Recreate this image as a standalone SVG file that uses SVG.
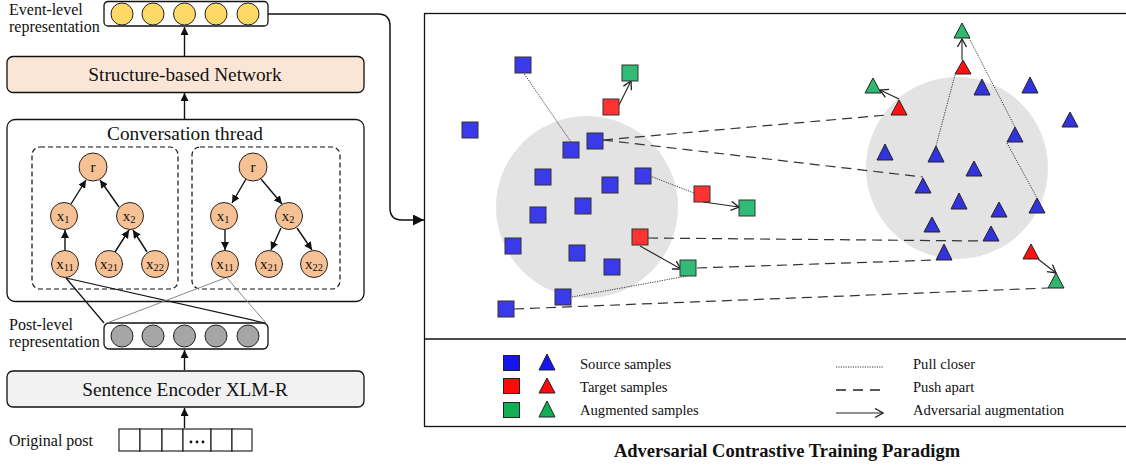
<svg xmlns="http://www.w3.org/2000/svg" width="1126" height="466" viewBox="0 0 1126 466">
<style>
text{font-family:"Liberation Serif","Times New Roman",serif;fill:#111}
.lbl{font-size:16px}
.box{stroke:#111;stroke-width:1.3}
.tn{fill:#F7C196;stroke:#222;stroke-width:1}
.tt{font-size:15px;text-anchor:middle}
.sub{font-size:10.5px}
.ev{fill:#FFD966;stroke:#222;stroke-width:1}
.pv{fill:#A6A6A6;stroke:#222;stroke-width:1}
.ta{stroke:#111;stroke-width:1.4;fill:none;marker-end:url(#ah)}
.sq{stroke:#333;stroke-width:1}
.b{fill:#3A3AEA}.r{fill:#FF3333}.g{fill:#30BC74}
.tb{fill:#3333DD}.tr{fill:#FF1111}.tg{fill:#30B870}
.dash{stroke:#333;stroke-width:1.2;stroke-dasharray:10 6;fill:none}
.dot{stroke:#222;stroke-width:0.9;stroke-dasharray:1.2 1.2;fill:none}
.adv{stroke:#222;stroke-width:1.1;fill:none;marker-end:url(#oa)}
.leg{font-size:14.6px}
</style>
<defs>
<marker id="ah" viewBox="0 0 10 10" refX="10" refY="5" markerWidth="8" markerHeight="8" markerUnits="userSpaceOnUse" orient="auto"><path d="M0,0 L10,5 L0,10 z" fill="#111"/></marker>
<marker id="ah2" viewBox="0 0 10 10" refX="10" refY="5" markerWidth="11" markerHeight="11" markerUnits="userSpaceOnUse" orient="auto"><path d="M0,0 L10,5 L0,10 z" fill="#111"/></marker>
<marker id="oa" viewBox="0 0 10 10" refX="9" refY="5" markerWidth="10" markerHeight="10" markerUnits="userSpaceOnUse" orient="auto"><path d="M1,0.5 L9,5 L1,9.5" fill="none" stroke="#222" stroke-width="1.3"/></marker>
</defs>
<rect width="1126" height="466" fill="#fff"/>

<!-- LEFT PANEL -->
<g id="event-level">
<text class="lbl" x="9" y="15">Event-level</text>
<text class="lbl" x="9" y="32">representation</text>
<rect x="104" y="1.5" width="164" height="24.5" rx="4" fill="#fff" class="box"/>
<circle class="ev" cx="122" cy="14" r="11"/><circle class="ev" cx="153" cy="14" r="11"/><circle class="ev" cx="184.5" cy="14" r="11"/><circle class="ev" cx="216" cy="14" r="11"/><circle class="ev" cx="248" cy="14" r="11"/>
</g>
<g id="structure-net">
<rect x="7" y="56.5" width="357" height="36" rx="6" fill="#FBE5D6" class="box"/>
<text x="185" y="81" font-size="19.3" text-anchor="middle">Structure-based Network</text>
</g>
<g id="conv-thread">
<rect x="7" y="119.5" width="357" height="182" rx="8" fill="#fff" class="box"/>
<text x="185" y="140" font-size="19.3" text-anchor="middle">Conversation thread</text>
<rect x="32" y="147" width="146" height="142" rx="8" fill="none" stroke="#111" stroke-width="1.2" stroke-dasharray="5 3"/>
<rect x="192" y="147" width="148" height="142" rx="8" fill="none" stroke="#111" stroke-width="1.2" stroke-dasharray="5 3"/>
</g>
<g id="tree-left">
<line class="ta" x1="71" y1="204" x2="86" y2="180"/>
<line class="ta" x1="119" y1="207" x2="100" y2="180"/>
<line class="ta" x1="65" y1="250" x2="65" y2="230"/>
<line class="ta" x1="115" y1="252" x2="129" y2="230"/>
<line class="ta" x1="147" y1="252" x2="133" y2="230"/>
<circle class="tn" cx="93" cy="167" r="14"/><text class="tt" x="93" y="172">r</text>
<circle class="tn" cx="64" cy="216" r="13.5"/><text class="tt" x="63" y="221">x<tspan class="sub" dy="2">1</tspan></text>
<circle class="tn" cx="130" cy="216" r="13.5"/><text class="tt" x="129" y="221">x<tspan class="sub" dy="2">2</tspan></text>
<circle class="tn" cx="65" cy="264" r="13.5"/><text class="tt" x="65" y="269">x<tspan class="sub" dy="2">11</tspan></text>
<circle class="tn" cx="109" cy="264" r="13.5"/><text class="tt" x="109" y="269">x<tspan class="sub" dy="2">21</tspan></text>
<circle class="tn" cx="155" cy="264" r="13.5"/><text class="tt" x="155" y="269">x<tspan class="sub" dy="2">22</tspan></text>
</g>
<g id="tree-right">
<line class="ta" x1="246" y1="179" x2="232" y2="203"/>
<line class="ta" x1="261" y1="179" x2="282" y2="204"/>
<line class="ta" x1="225" y1="230" x2="225" y2="250"/>
<line class="ta" x1="281" y1="228" x2="271" y2="250"/>
<line class="ta" x1="297" y1="228" x2="312" y2="250"/>
<circle class="tn" cx="253" cy="167" r="14"/><text class="tt" x="253" y="172">r</text>
<circle class="tn" cx="224" cy="216" r="13.5"/><text class="tt" x="223" y="221">x<tspan class="sub" dy="2">1</tspan></text>
<circle class="tn" cx="289" cy="216" r="13.5"/><text class="tt" x="288" y="221">x<tspan class="sub" dy="2">2</tspan></text>
<circle class="tn" cx="225" cy="264" r="13.5"/><text class="tt" x="225" y="269">x<tspan class="sub" dy="2">11</tspan></text>
<circle class="tn" cx="269" cy="264" r="13.5"/><text class="tt" x="269" y="269">x<tspan class="sub" dy="2">21</tspan></text>
<circle class="tn" cx="314" cy="264" r="13.5"/><text class="tt" x="314" y="269">x<tspan class="sub" dy="2">22</tspan></text>
</g>
<g id="post-level">
<text class="lbl" x="9" y="330">Post-level</text>
<text class="lbl" x="9" y="347">representation</text>
<rect x="104" y="323" width="164" height="26" rx="5" fill="#fff" class="box"/>
<circle class="pv" cx="122" cy="336" r="11"/><circle class="pv" cx="153" cy="336" r="11"/><circle class="pv" cx="184.5" cy="336" r="11"/><circle class="pv" cx="216" cy="336" r="11"/><circle class="pv" cx="248" cy="336" r="11"/>
</g>
<g id="sentence-encoder">
<rect x="7" y="371" width="357" height="36" rx="6" fill="#F2F2F2" class="box"/>
<text x="185" y="396" font-size="19.3" text-anchor="middle">Sentence Encoder XLM-R</text>
</g>
<g id="original-post">
<text class="lbl" x="9" y="446">Original post</text>
<g fill="#fff" stroke="#111" stroke-width="1.1">
<rect x="119" y="429" width="21" height="22"/><rect x="140" y="429" width="22" height="22"/><rect x="162" y="429" width="21" height="22"/><rect x="183" y="429" width="28" height="22"/><rect x="211" y="429" width="21" height="22"/><rect x="232" y="429" width="20" height="22"/>
</g>
<circle cx="191" cy="442" r="1.4" fill="#111"/><circle cx="197" cy="442" r="1.4" fill="#111"/><circle cx="203" cy="442" r="1.4" fill="#111"/>
</g>
<g id="left-connectors">
<line class="ta" x1="184.5" y1="56" x2="184.5" y2="27"/>
<line class="ta" x1="184.5" y1="119" x2="184.5" y2="93"/>
<line class="ta" x1="184.5" y1="370" x2="184.5" y2="350"/>
<line class="ta" x1="184.5" y1="428" x2="184.5" y2="408"/>
<line x1="66" y1="278" x2="104" y2="323" stroke="#111" stroke-width="1.2"/>
<line x1="66" y1="278" x2="265" y2="323" stroke="#111" stroke-width="1.2"/>
<line x1="225" y1="278" x2="107" y2="323" stroke="#888" stroke-width="1"/>
<line x1="227" y1="278" x2="266" y2="323" stroke="#888" stroke-width="1"/>
<path d="M268,14 H378 Q390,14 390,26 V208 Q390,220 402,220 H424" fill="none" stroke="#111" stroke-width="1.5" marker-end="url(#ah2)"/>
</g>

<!-- RIGHT PANEL -->
<g id="paradigm-frame">
<rect x="424.5" y="13.5" width="710" height="413" fill="#fff" stroke="#111" stroke-width="1.3"/>
<line x1="424.5" y1="339" x2="1126" y2="339" stroke="#111" stroke-width="1.3"/>
<circle cx="587" cy="207" r="91" fill="#E3E3E3"/>
<circle cx="957" cy="168" r="91" fill="#E3E3E3"/>
</g>
<g id="connectors">
<line class="dot" x1="523" y1="72" x2="571" y2="142"/>
<line class="dot" x1="650" y1="176" x2="694" y2="193"/>
<line class="dot" x1="572" y1="297" x2="687" y2="276"/>
<line class="dot" x1="955" y1="75" x2="936" y2="146"/>
<line class="dot" x1="969" y1="38" x2="1015" y2="127"/>
<line class="dot" x1="1007" y1="143" x2="1037" y2="198"/>
<line class="dash" x1="603" y1="140" x2="887" y2="115"/>
<line class="dash" x1="603" y1="140" x2="923" y2="177"/>
<line class="dash" x1="648" y1="238" x2="983" y2="241"/>
<line class="dash" x1="697" y1="268" x2="936" y2="260"/>
<line class="dash" x1="514" y1="309" x2="1048" y2="288"/>
<line class="adv" x1="619" y1="105" x2="631" y2="81"/>
<line class="adv" x1="703" y1="202" x2="739" y2="207"/>
<line class="adv" x1="640" y1="246" x2="681" y2="269"/>
<line class="adv" x1="962" y1="60" x2="962" y2="39"/>
<line class="adv" x1="899" y1="99" x2="880" y2="90"/>
<line class="adv" x1="1038" y1="259" x2="1056" y2="273"/>
</g>
<g id="source-squares">
<rect id="s1" class="sq b" x="515" y="57" width="16" height="16"/>
<rect id="s4" class="sq b" x="462" y="122" width="16" height="16"/>
<rect id="s5" class="sq b" x="563" y="142" width="16" height="16"/>
<rect id="s6" class="sq b" x="587" y="133" width="16" height="16"/>
<rect id="s7" class="sq b" x="535" y="169" width="16" height="16"/>
<rect id="s8" class="sq b" x="602" y="177" width="16" height="16"/>
<rect id="s9" class="sq b" x="635" y="168" width="16" height="16"/>
<rect id="s12" class="sq b" x="575" y="198" width="16" height="16"/>
<rect id="s13" class="sq b" x="530" y="207" width="16" height="16"/>
<rect id="s15" class="sq b" x="505" y="238" width="16" height="16"/>
<rect id="s16" class="sq b" x="569" y="245" width="16" height="16"/>
<rect id="s17" class="sq b" x="604" y="259" width="16" height="16"/>
<rect id="s19" class="sq b" x="555" y="289" width="16" height="16"/>
<rect id="s20" class="sq b" x="498" y="301" width="16" height="16"/>
</g>
<g id="target-squares">
<rect id="s3" class="sq r" x="603" y="99" width="16" height="16"/>
<rect id="s10" class="sq r" x="694" y="186" width="16" height="16"/>
<rect id="s14" class="sq r" x="632" y="229" width="16" height="16"/>
</g>
<g id="aug-squares">
<rect id="s2" class="sq g" x="622" y="65" width="16" height="16"/>
<rect id="s11" class="sq g" x="739" y="200" width="16" height="16"/>
<rect id="s18" class="sq g" x="680" y="260" width="16" height="16"/>
</g>
<g id="triangles" stroke="#222" stroke-width="1">
<polygon id="t1" class="tg" points="962,23 970,38 954,38"/>
<polygon id="t2" class="tr" points="963,60 971,74 955,74"/>
<polygon id="t3" class="tb" points="982,79 990,95 974,95"/>
<polygon id="t4" class="tb" points="1030,77 1038,93 1022,93"/>
<polygon id="t5" class="tg" points="873,78 881,93 865,93"/>
<polygon id="t6" class="tr" points="899,100 907,115 891,115"/>
<polygon id="t7" class="tb" points="1070,112 1078,127 1062,127"/>
<polygon id="t8" class="tb" points="1015,127 1023,142 1007,142"/>
<polygon id="t9" class="tb" points="885,144 893,160 877,160"/>
<polygon id="t10" class="tb" points="936,146 944,162 928,162"/>
<polygon id="t11" class="tb" points="974,161 982,176 966,176"/>
<polygon id="t12" class="tb" points="923,178 931,193 915,193"/>
<polygon id="t13" class="tb" points="959,193 967,209 951,209"/>
<polygon id="t14" class="tb" points="999,202 1007,217 991,217"/>
<polygon id="t15" class="tb" points="1037,198 1045,213 1029,213"/>
<polygon id="t16" class="tb" points="932,217 940,232 924,232"/>
<polygon id="t17" class="tb" points="991,226 999,241 983,241"/>
<polygon id="t18" class="tb" points="944,244 952,260 936,260"/>
<polygon id="t19" class="tr" points="1031,244 1039,259 1023,259"/>
<polygon id="t20" class="tg" points="1056,273 1064,288 1048,288"/>
</g>
<g id="legend">
<rect x="503.5" y="355.5" width="16" height="15" fill="#1515EE" stroke="#222"/>
<rect x="503.5" y="378.5" width="16" height="15" fill="#FF0A0A" stroke="#222"/>
<rect x="503.5" y="402.5" width="16" height="15" fill="#10AE55" stroke="#222"/>
<polygon points="547,354 555,370 539,370" fill="#1515EE" stroke="#222"/>
<polygon points="547,378 555,393 539,393" fill="#FF0A0A" stroke="#222"/>
<polygon points="547,401 555,417 539,417" fill="#10AE55" stroke="#222"/>
<text class="leg" x="580" y="369">Source samples</text>
<text class="leg" x="580" y="392">Target samples</text>
<text class="leg" x="580" y="415">Augmented samples</text>
<line class="dot" x1="836" y1="367" x2="883" y2="367"/>
<line x1="836" y1="390" x2="883" y2="390" stroke="#222" stroke-width="1.3" stroke-dasharray="10 7"/>
<line class="adv" x1="836" y1="413" x2="883" y2="413"/>
<text class="leg" x="913" y="369">Pull closer</text>
<text class="leg" x="913" y="392">Push apart</text>
<text class="leg" x="913" y="415">Adversarial augmentation</text>
</g>
<text x="787" y="457" font-size="18.5" font-weight="bold" text-anchor="middle">Adversarial Contrastive Training Paradigm</text>
</svg>
